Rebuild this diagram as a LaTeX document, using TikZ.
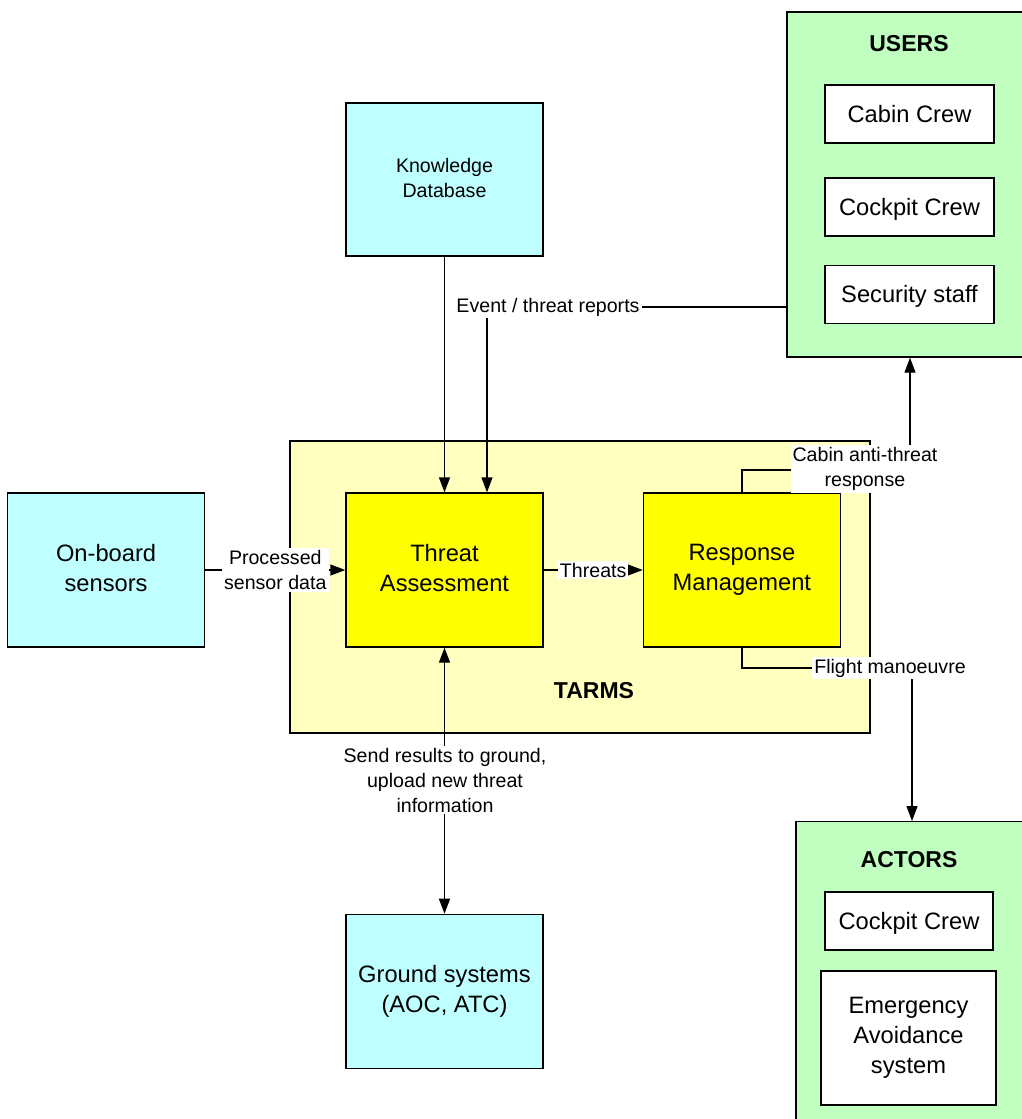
\documentclass[tikz,border=0pt]{standalone}
\usepackage{fontspec}
\setmainfont{Liberation Sans}
\usetikzlibrary{shapes,arrows.meta,positioning,calc}

\definecolor{skyfill}{RGB}{192,255,255}
\definecolor{tarmsfill}{RGB}{255,255,192}
\definecolor{greenfill}{RGB}{192,255,192}
\definecolor{corefill}{RGB}{255,255,0}
\newcommand\boxstrut{\rule[-4pt]{0pt}{25pt}}

\begin{document}
\begin{tikzpicture}[x=1pt,y=-1pt,
        line width=1.4pt,
        >={Triangle[length=15pt,width=11pt]},
        bigtext/.style={font=\fontsize{23.7}{30}\selectfont},
        smalltext/.style={font=\fontsize{19.6}{25}\selectfont},
        block/.style={draw,bigtext,align=center,inner sep=0pt,minimum width=197pt,minimum height=154pt,
            execute at begin node=\boxstrut,execute at end node=\boxstrut},
        extblock/.style={block,fill=skyfill},
        coreblock/.style={block,fill=corefill},
        member/.style={draw,fill=white,bigtext,align=center,inner sep=0pt,minimum width=169pt,minimum height=58pt,
            execute at begin node=\boxstrut,execute at end node=\boxstrut},
        group/.style={draw,fill=greenfill,inner sep=0pt},
        heading/.style={font=\fontsize{23}{28}\selectfont\bfseries},
        flowlabel/.style={fill=white,smalltext,align=center,inner sep=2pt}]
    \clip (0,0) rectangle (1022,1119);
    \useasboundingbox (0,0) rectangle (1022,1119);

    % system boundary
    \node[draw,fill=tarmsfill,minimum width=580pt,minimum height=292pt,inner sep=0pt] (tarms) at (580,587) {};
    \node[heading] (tarmslbl) at (594,691) {TARMS};

    % main blocks
    \node[coreblock] (assess) at (444.5,570) {Threat\\Assessment};
    \node[coreblock,right=99pt of assess] (respond) {Response\\Management};
    \node[extblock,left=140pt of assess] (sensors) {On-board\\sensors};
    \node[extblock,smalltext,minimum height=153pt,
        execute at begin node={},execute at end node={}] (kdb) at (444.5,179.5) {Knowledge\\Database};
    \node[extblock,below=266pt of assess] (ground) {Ground systems\\(AOC, ATC)};

    % users
    \node[group,minimum width=246pt,minimum height=345pt] (users) at (910,184.5) {};
    \node[heading] (userslbl) at (909,44) {USERS};
    \node[member] (cabin) at (909.5,114) {Cabin Crew};
    \node[member] (cockpit) at (909.5,207) {Cockpit Crew};
    \node[member] (security) at (909.5,294.5) {Security staff};

    % actors
    \node[group,minimum width=232pt,minimum height=340pt,anchor=north] (actors) at (912,821) {};
    \node[heading] (actorslbl) at (909,860) {ACTORS};
    \node[member,minimum width=168pt] (acockpit) at (909,921) {Cockpit Crew};
    \node[member,minimum width=175pt,minimum height=134pt] (eas) at (908.5,1038) {Emergency\\Avoidance\\system};

    % connectors
    \coordinate (evt) at (787,307);
    \coordinate (cab) at (910,470);
    \coordinate (flt) at (912,668);
    \draw[->] (kdb) -- (assess);
    \draw[->] (evt) -| ([xshift=42.5pt]assess.north);
    \draw[->] (sensors) -- (assess) node[flowlabel,midway] (sensorlbl) {Processed\\sensor data};
    \draw[->] (assess) -- (respond) node[flowlabel,midway] (threatlbl) {Threats};
    \draw[->] (respond.north) |- (cab) -- (users.south);
    \draw[->] (respond.south) |- (flt) -- (actors.north);
    \draw[<->] (assess.south) -- (ground.north);

    % labels on the lines
    \node[flowlabel] (evtlbl) at (548,307) {Event / threat reports};
    \node[flowlabel] (cablbl) at (865,469) {Cabin anti-threat\\response};
    \node[flowlabel] (fltlbl) at (890,668) {Flight manoeuvre};
    \node[flowlabel] (gndlbl) at (445,780) {Send results to ground,\\upload new threat\\information};
\end{tikzpicture}
\end{document}
